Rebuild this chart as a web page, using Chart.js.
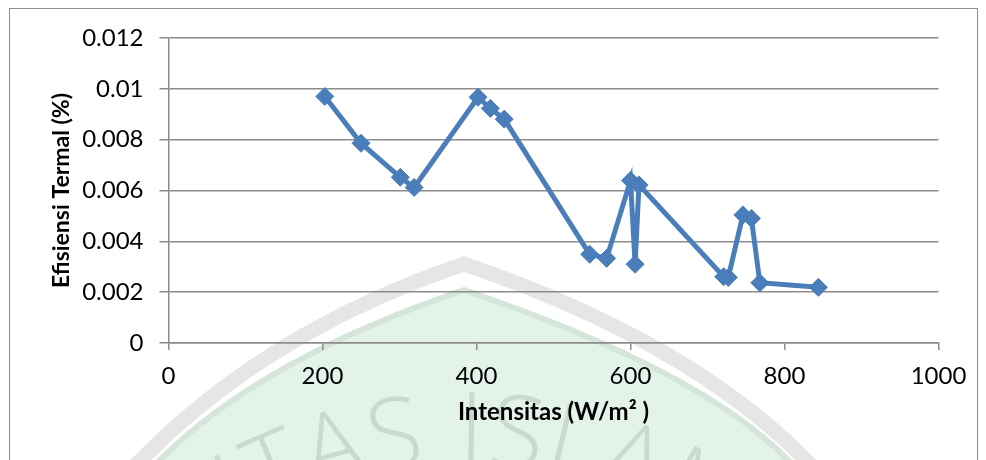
<!DOCTYPE html>
<html>
<head>
<meta charset="utf-8">
<title>Efisiensi Termal vs Intensitas</title>
<script src="https://cdn.jsdelivr.net/npm/chart.js@4/dist/chart.umd.min.js"></script>
<style>
    html, body { margin: 0; padding: 0; background: #fff; }
    canvas { display: block; }
</style>
</head>
<body>
<canvas id="effChart" width="986" height="460"></canvas>
<script>
// Intensitas radiasi (W/m²) dan efisiensi termal, urutan sesuai pengukuran
const intensitas = [203, 250, 301, 319, 402, 418, 436, 547, 569, 600, 606, 611, 721, 727, 746, 757, 768, 844];
const efisiensi = [0.0097, 0.00786, 0.00652, 0.00612, 0.00967, 0.00923, 0.00881, 0.00349, 0.00333, 0.00639, 0.0031, 0.00622, 0.00261, 0.00258, 0.00504, 0.0049, 0.00237, 0.00219];

const xTicks = [0, 200, 400, 600, 800, 1000];
const yTicks = [0, 0.002, 0.004, 0.006, 0.008, 0.01, 0.012];

const BLUE = '#4a7ebb';
const GRID = '#8c8c8c';
const TICK_FONT = { family: 'Lato, "Open Sans", sans-serif', size: 24 };
const TITLE_FONT = { family: 'Lato, "Open Sans", sans-serif', size: 23, weight: 'bold' };

// background: white page, campus seal watermark and the outer frame
const backdrop = {
    id: 'backdrop',
    beforeDraw(chart) {
        const ctx = chart.ctx;
        ctx.save();
        ctx.fillStyle = '#ffffff';
        ctx.fillRect(0, 0, chart.width, chart.height);

        // grey outer arch
        ctx.beginPath();
        ctx.moveTo(121, 480);
        ctx.lineTo(141, 460);
        ctx.quadraticCurveTo(267, 331, 464, 264);
        ctx.quadraticCurveTo(687, 340, 806, 460);
        ctx.lineTo(826, 480);
        ctx.strokeStyle = '#e6e6e6';
        ctx.lineWidth = 15;
        ctx.lineJoin = 'miter';
        ctx.stroke();

        // green inner arch
        ctx.beginPath();
        ctx.moveTo(150, 470);
        ctx.lineTo(160, 460);
        ctx.quadraticCurveTo(261, 359, 464, 290);
        ctx.quadraticCurveTo(700, 370, 788, 460);
        ctx.lineTo(798, 470);
        ctx.lineTo(798, 500);
        ctx.lineTo(150, 500);
        ctx.closePath();
        ctx.fillStyle = '#e4f3ea';
        ctx.fill();
        ctx.strokeStyle = '#d5e5da';
        ctx.lineWidth = 6;
        ctx.stroke();

        // lettering around the seal
        const ring = 'UNIVERSITAS ISLAM NEGERI';
        const cx = 464, cy = 910, rBase = 446, rMid = 482, gap = 6;
        ctx.font = '300 100px "Open Sans", "DejaVu Sans", sans-serif';
        ctx.fillStyle = '#c9d9cf';
        ctx.textAlign = 'center';
        ctx.textBaseline = 'alphabetic';
        const widths = [...ring].map(c => ctx.measureText(c).width + gap);
        const sp = ring.indexOf(' ');
        const before = widths.slice(0, sp).reduce((a, b) => a + b, 0) + widths[sp] / 2;
        let ang = -before / rMid - 0.05;
        [...ring].forEach((c, i) => {
            const mid = ang + widths[i] / 2 / rMid;
            ctx.save();
            ctx.translate(cx, cy);
            ctx.rotate(mid);
            ctx.fillText(c, 0, -rBase);
            ctx.restore();
            ang += widths[i] / rMid;
        });

        // frame
        ctx.strokeStyle = '#8e8e8e';
        ctx.lineWidth = 1;
        ctx.strokeRect(9.5, 8.5, 968, 480);
        ctx.restore();
    }
};

const ctx = document.getElementById('effChart').getContext('2d');
new Chart(ctx, {
    type: 'scatter',
    data: {
        datasets: [{
            label: 'Efisiensi Termal',
            data: intensitas.map((x, i) => ({ x: x, y: efisiensi[i] })),
            showLine: true,
            borderColor: BLUE,
            backgroundColor: BLUE,
            borderWidth: 5,
            tension: 0,
            pointStyle: 'rectRot',
            pointRadius: 9,
            pointHoverRadius: 9,
            pointBorderWidth: 1,
            pointBorderColor: BLUE,
            pointBackgroundColor: BLUE,
        }]
    },
    options: {
        responsive: false,
        devicePixelRatio: 1,
        animation: false,
        layout: { padding: { left: 40, right: 47.5, top: 38, bottom: 17 } },
        plugins: {
            legend: { display: false },
            tooltip: { enabled: false }
        },
        scales: {
            x: {
                type: 'linear',
                min: 0,
                max: 1000,
                afterFit: s => { s.height = 100; },
                afterBuildTicks: s => { s.ticks = xTicks.map(v => ({ value: v })); },
                ticks: {
                    color: '#000',
                    font: TICK_FONT,
                    padding: 12,
                    maxRotation: 0,
                    callback: v => String(v)
                },
                grid: { drawOnChartArea: false, drawTicks: true, tickLength: 7, color: GRID, lineWidth: 1.5 },
                border: { color: GRID, width: 1.5 },
                title: {
                    display: true,
                    text: 'Intensitas (W/m² )',
                    color: '#000',
                    font: { ...TITLE_FONT, size: 24 },
                    padding: { top: 0, bottom: 16 }
                }
            },
            y: {
                type: 'linear',
                min: 0,
                max: 0.012,
                afterFit: s => { s.width = 128.5; },
                afterBuildTicks: s => { s.ticks = yTicks.map(v => ({ value: v })); },
                ticks: {
                    color: '#000',
                    font: TICK_FONT,
                    padding: 16,
                    callback: v => String(+v.toFixed(3))
                },
                grid: { color: GRID, lineWidth: 1.5, tickLength: 9 },
                border: { color: GRID, width: 1.5 },
                title: {
                    display: true,
                    text: 'Efisiensi Termal (%)',
                    color: '#000',
                    font: TITLE_FONT,
                    padding: { top: 8, bottom: 0 }
                }
            }
        }
    },
    plugins: [backdrop]
});
</script>
</body>
</html>
